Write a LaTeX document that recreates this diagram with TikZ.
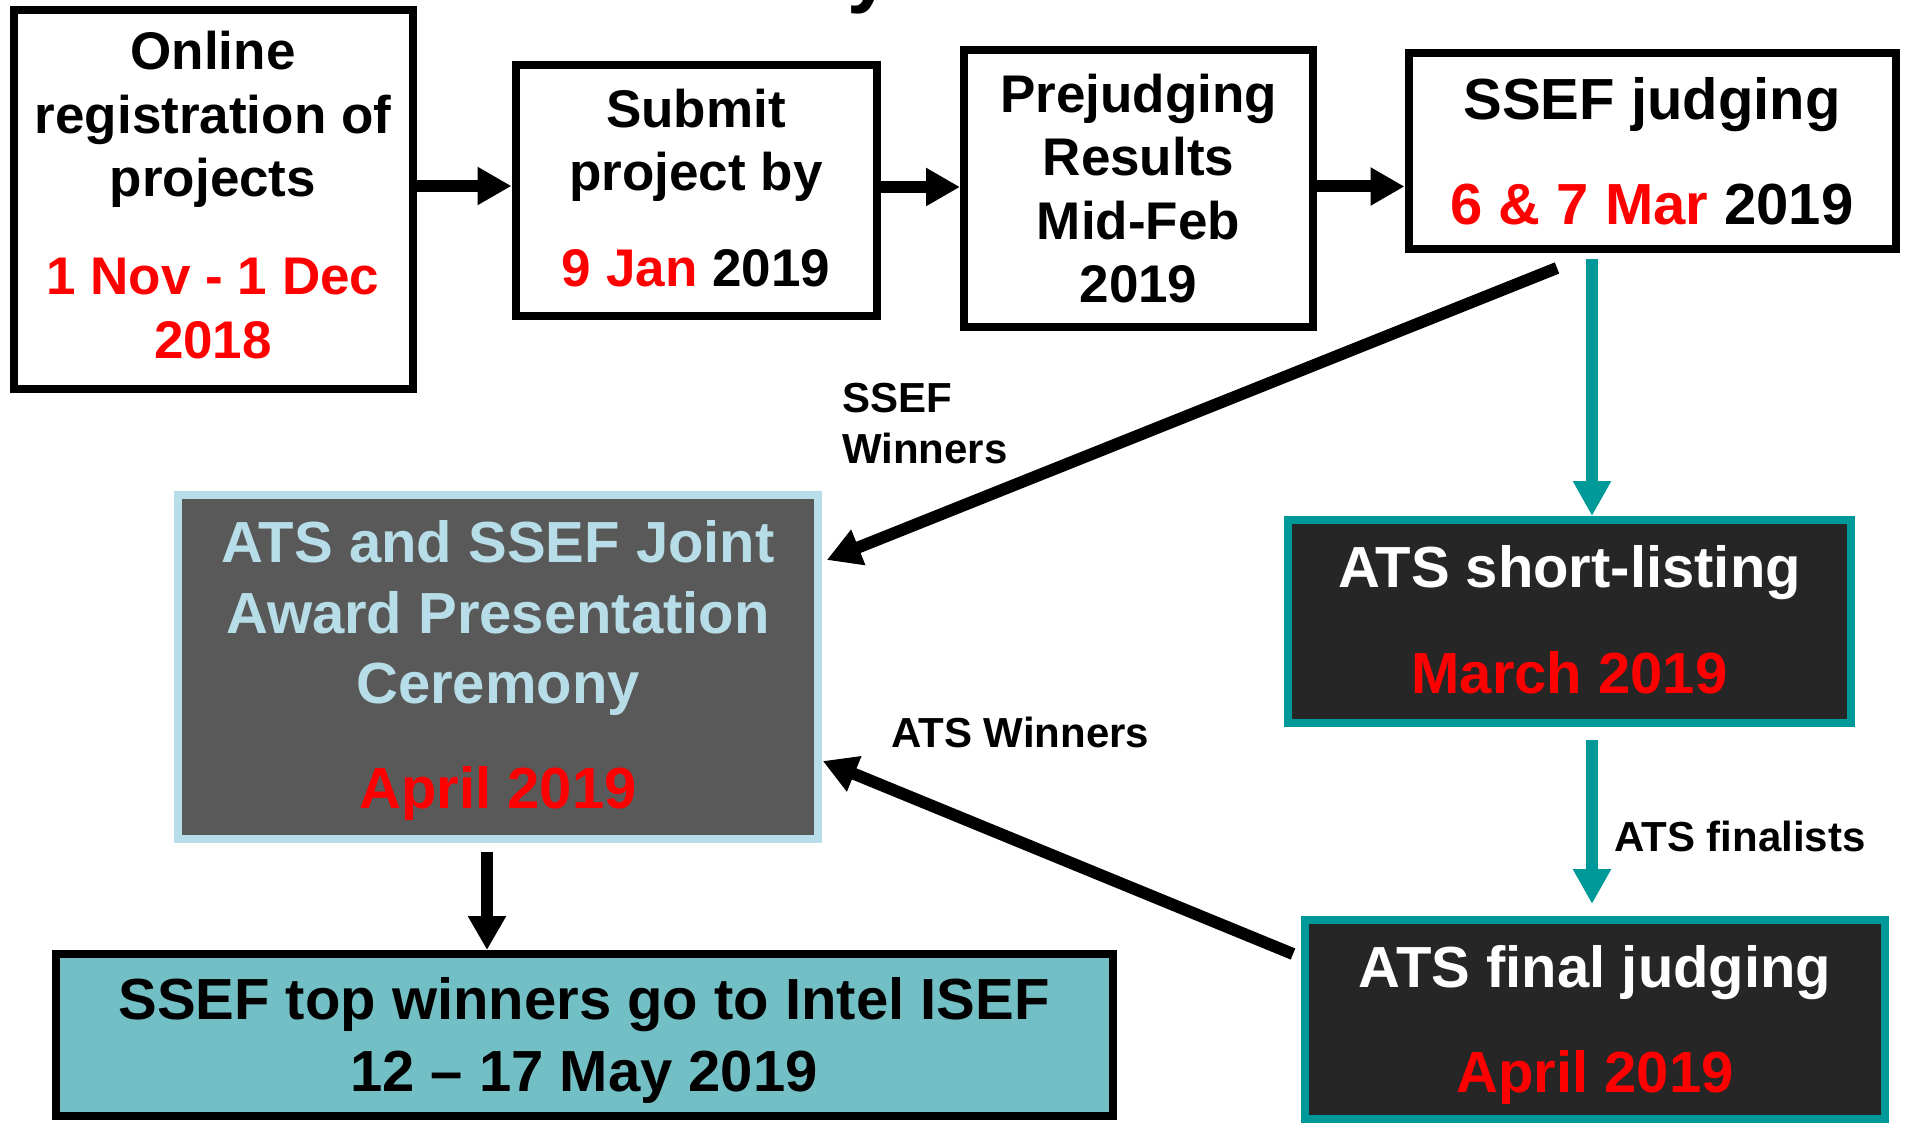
\documentclass[tikz,border=0pt]{standalone}
\usepackage{fontspec}
\setmainfont{Liberation Sans}
\usetikzlibrary{arrows.meta}
\definecolor{tealc}{HTML}{009999}
\definecolor{darkc}{HTML}{262626}
\definecolor{grayc}{HTML}{595959}
\definecolor{lblue}{HTML}{B7DEE8}
\definecolor{isefc}{HTML}{72BFC5}
\definecolor{redc}{HTML}{FF0000}
\begin{document}
\begin{tikzpicture}[x=1pt,y=-1pt,
  wbox/.style={draw=black,line width=8pt,fill=white,inner sep=0pt},
  dbox/.style={draw=tealc,line width=8pt,fill=darkc,inner sep=0pt},
  gbox/.style={draw=lblue,line width=8pt,fill=grayc,inner sep=0pt},
  ibox/.style={draw=black,line width=8pt,fill=isefc,inner sep=0pt},
  txt/.style={inner sep=0pt,align=center,anchor=base},
  fA/.style={font=\fontsize{53}{63.5}\selectfont\bfseries},
  fB/.style={font=\fontsize{58}{70.5}\selectfont\bfseries},
  fC/.style={font=\fontsize{42}{51}\selectfont\bfseries},
  blkarrow/.style={draw=black,line width=12pt,-{Triangle[length=34pt,width=36pt]}},
  tealarrow/.style={draw=tealc,line width=12pt,-{Triangle[length=35pt,width=36pt]}},
]
\useasboundingbox (0,0) rectangle (1906,1123);
\fill[white] (0,0) rectangle (1906,1123);
\clip (0,0) rectangle (1906,1123);

% fragment of the cut-off title
\node[font=\fontsize{80}{80}\selectfont\bfseries,inner sep=0pt,anchor=base west] (ttl) at (847,-2) {y};

% boxes
\node[wbox,minimum width=399pt,minimum height=379pt] (reg) at (213,199.5) {};
\node[wbox,minimum width=361pt,minimum height=251pt] (sub) at (696,191) {};
\node[wbox,minimum width=349pt,minimum height=277pt] (pre) at (1138.5,188.5) {};
\node[wbox,minimum width=487pt,minimum height=196pt] (ssef) at (1652,151) {};
\node[dbox,minimum width=563pt,minimum height=203pt] (short) at (1569.5,621.5) {};
\node[dbox,minimum width=580pt,minimum height=199pt] (final) at (1595,1019.5) {};
\node[gbox,minimum width=639.5pt,minimum height=344pt] (joint) at (498,667) {};
\node[ibox,minimum width=1056.5pt,minimum height=161.5pt] (isef) at (584.25,1034.75) {};

% box texts (anchored at the baseline of the last line)
\node[txt,fA] (regt) at (213,358) {Online\\registration of\\projects\\[34.5pt]\textcolor{redc}{1 Nov - 1 Dec}\\\textcolor{redc}{2018}};
\node[txt,fA] (subt) at (696,286.7) {Submit\\project by\\[32.5pt]\textcolor{redc}{9 Jan} 2019};
\node[txt,fA] (pret) at (1138.5,302.7) {Prejudging\\Results\\Mid-Feb\\2019};
\node[txt,fB] (sseft) at (1652,225) {SSEF judging\\[34.5pt]\textcolor{redc}{6 \& 7 Mar} 2019};
\node[txt,fB,text=white] (shortt) at (1569.5,693) {ATS short-listing\\[35pt]\textcolor{redc}{March 2019}};
\node[txt,fB,text=white] (finalt) at (1595,1092.7) {ATS final judging\\[35pt]\textcolor{redc}{April 2019}};
\node[txt,fB,text=lblue] (jointt) at (498,808) {ATS and SSEF Joint\\Award Presentation\\Ceremony\\[34pt]\textcolor{redc}{April 2019}};
\node[txt,fB,font=\fontsize{58}{72}\selectfont\bfseries] (isept) at (584,1091) {SSEF top winners go to Intel ISEF\\12 – 17 May 2019};

% connector labels
\node[fC,inner sep=0pt,align=left,anchor=base west] (lbla) at (842,463) {SSEF\\Winners};
\node[fC,inner sep=0pt,anchor=base west] (lblb) at (891,747) {ATS Winners};
\node[fC,inner sep=0pt,anchor=base west] (lblc) at (1614,851.6) {ATS finalists};

% connectors
\draw[blkarrow] ([shift={(0,-13.5)}]reg.east) -- ([shift={(0,-5)}]sub.west);
\draw[blkarrow] ([shift={(0,-4)}]sub.east) -- ([shift={(0,-1.5)}]pre.west);
\draw[blkarrow] ([shift={(0,-2)}]pre.east) -- ([shift={(0,35.5)}]ssef.west);
\draw[tealarrow] ([shift={(-60,6)}]ssef.south) -- ([shift={(22.5,0)}]short.north);
\draw[tealarrow] ([shift={(22.5,13)}]short.south) -- ([shift={(-3,-12)}]final.north);
\draw[blkarrow] ([shift={(-95,15)}]ssef.south) -- ([shift={(5,-107)}]joint.east);
\draw[blkarrow] ([shift={(-8,-65.5)}]final.west) -- ([shift={(1,94)}]joint.east);
\draw[blkarrow] ([shift={(-11,9)}]joint.south) -- ([shift={(-97.25,0)}]isef.north);
\end{tikzpicture}
\end{document}
